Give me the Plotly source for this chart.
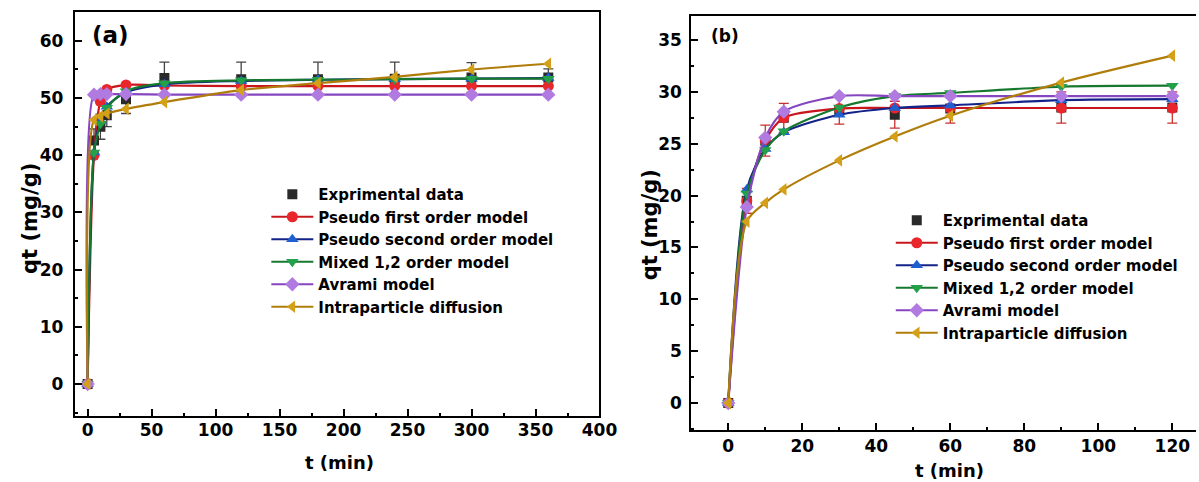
import plotly.graph_objects as go

# ---------------- data: panel (a) ----------------
ta = [0, 5, 10, 15, 30, 60, 120, 180, 240, 300, 360]
exp_a = [0, 42.6, 45.0, 47.0, 49.8, 53.5, 53.3, 53.3, 53.4, 53.6, 53.6]
err_a = [0, 2.0, 2.2, 2.0, 2.5, 2.8, 3.0, 3.0, 2.9, 2.6, 1.5]
pfo_a = [0, 40.0, 49.4, 51.5, 52.3, 52.2, 52.1, 52.1, 52.1, 52.1, 52.1]
pso_a = [0, 40.5, 46.0, 48.5, 51.0, 52.4, 53.0, 53.2, 53.3, 53.4, 53.5]
mix_a = [0, 40.5, 45.5, 48.3, 51.2, 52.6, 53.1, 53.2, 53.3, 53.4, 53.4]
avr_a = [0, 50.6, 50.7, 50.7, 50.7, 50.6, 50.6, 50.6, 50.6, 50.6, 50.6]
ipd_a = [0, 46.2, 46.8, 47.3, 48.1, 49.3, 51.4, 52.6, 53.7, 55.0, 56.0]

# ---------------- data: panel (b) ----------------
tb = [0, 5, 10, 15, 30, 45, 60, 90, 120]
exp_b = [0, 19.5, 25.3, 27.5, 28.2, 27.8, 28.4, 28.5, 28.5]
err_b = [0, 1.2, 1.5, 1.4, 1.3, 1.3, 1.4, 1.5, 1.5]
pfo_b = [0, 19.5, 25.3, 27.5, 28.4, 28.45, 28.45, 28.45, 28.45]
pso_b = [0, 20.6, 24.5, 26.1, 27.8, 28.45, 28.7, 29.2, 29.3]
mix_b = [0, 20.2, 24.4, 26.2, 28.5, 29.6, 29.9, 30.5, 30.6]
avr_b = [0, 18.9, 25.6, 28.1, 29.6, 29.6, 29.6, 29.6, 29.6]
ipd_b = [0, 17.5, 19.3, 20.6, 23.4, 25.7, 27.7, 30.9, 33.5]

names = ["Exprimental data", "Pseudo first order model", "Pseudo second order model",
         "Mixed 1,2 order model", "Avrami model", "Intraparticle diffusion"]
ticks_a_x = [0, 50, 100, 150, 200, 250, 300, 350, 400]
ticks_a_y = [0, 10, 20, 30, 40, 50, 60]
ticks_b_x = [0, 20, 40, 60, 80, 100, 120]
ticks_b_y = [0, 5, 10, 15, 20, 25, 30, 35]

FONT = "DejaVu Sans"
styles = [
    dict(line="#1a1a1a", marker="#2a2a2a", symbol="square"),
    dict(line="#c8161d", marker="#e8262b", symbol="circle"),
    dict(line="#14238a", marker="#1f5fd0", symbol="triangle-up"),
    dict(line="#16782e", marker="#22a04a", symbol="triangle-down"),
    dict(line="#8646c0", marker="#b07ae0", symbol="diamond"),
    dict(line="#b07d0a", marker="#d4a017", symbol="triangle-left"),
]

fig = go.Figure()

def add_panel(t, exp, err, models, xa, ya, legend, errcolor):
    st = styles[0]
    fig.add_trace(go.Scatter(
        x=t, y=exp, mode="markers", name=names[0], xaxis=xa, yaxis=ya,
        legend=legend, legendgroup=legend + "0",
        marker=dict(symbol=st["symbol"], size=10, color=st["marker"]),
        error_y=dict(type="data", array=err, color=errcolor, thickness=1.3, width=5)))
    for i, ys in enumerate(models, start=1):
        st = styles[i]
        fig.add_trace(go.Scatter(
            x=t, y=ys, mode="lines+markers", name=names[i], xaxis=xa, yaxis=ya,
            legend=legend, legendgroup=legend + str(i),
            line=dict(color=st["line"], width=2.2, shape="spline", smoothing=0.8),
            marker=dict(symbol=st["symbol"], size=11, color=st["marker"],
                        line=dict(width=0))))

add_panel(ta, exp_a, err_a, [pfo_a, pso_a, mix_a, avr_a, ipd_a], "x", "y", "legend", "#444444")
add_panel(tb, exp_b, err_b, [pfo_b, pso_b, mix_b, avr_b, ipd_b], "x2", "y2", "legend2", "#c83030")

W, H = 1214, 482
TW = 1199
def px_x(p): return p / TW
def px_y(p): return 1 - p / H

axis_common = dict(showline=True, linecolor="black", linewidth=2, ticks="inside",
                   ticklen=7, tickwidth=2, tickcolor="black", showgrid=False, zeroline=False,
                   tickfont=dict(family=FONT, size=17, color="black", weight="bold"))

fig.update_layout(
    width=W, height=H, autosize=False, margin=dict(l=0, r=0, t=0, b=0),
    paper_bgcolor="white", plot_bgcolor="white", showlegend=True,
    xaxis=dict(domain=[px_x(75), px_x(601)], range=[-10, 400], anchor="y",
               tickvals=ticks_a_x, mirror=True, ticklabelstandoff=-2,
               minor=dict(dtick=25, ticks="inside", ticklen=3, tickwidth=2, tickcolor="black"),
               **axis_common),
    yaxis=dict(domain=[px_y(416), px_y(12.3)], range=[-5.6, 65], anchor="x",
               tickvals=ticks_a_y, mirror=True, ticklabelstandoff=6,
               minor=dict(dtick=5, ticks="inside", ticklen=3, tickwidth=2, tickcolor="black"),
               **axis_common),
    xaxis2=dict(domain=[px_x(693), 1.0], range=[-10, 126.4], anchor="y2",
                tickvals=ticks_b_x, mirror=True, ticklabelstandoff=0,
                minor=dict(dtick=10, ticks="inside", ticklen=3, tickwidth=2, tickcolor="black"),
                **axis_common),
    yaxis2=dict(domain=[px_y(430), px_y(15.7)], range=[-2.6, 37.35], anchor="x2",
                tickvals=ticks_b_y, mirror=False, ticklabelstandoff=4,
                minor=dict(dtick=2.5, ticks="inside", ticklen=3, tickwidth=2, tickcolor="black"),
                **axis_common),
    legend=dict(x=px_x(267), y=px_y(178), xanchor="left", yanchor="top",
                bgcolor="rgba(0,0,0,0)", itemwidth=42, tracegroupgap=0,
                font=dict(family=FONT, size=15, color="black", weight="bold")),
    legend2=dict(x=px_x(893), y=px_y(204), xanchor="left", yanchor="top",
                 bgcolor="rgba(0,0,0,0)", itemwidth=42, tracegroupgap=0,
                 font=dict(family=FONT, size=15, color="black", weight="bold")),
)

ann_font = dict(family=FONT, color="black", weight="bold")
annotations = [
    dict(text="t (min)", x=px_x(340), y=px_y(462), font=dict(size=18, **ann_font)),
    dict(text="t (min)", x=px_x(952), y=px_y(470), font=dict(size=18, **ann_font)),
    dict(text="qt (mg/g)", x=px_x(30), y=px_y(218), textangle=-90, font=dict(size=21, **ann_font)),
    dict(text="qt (mg/g)", x=px_x(652), y=px_y(225), textangle=-90, font=dict(size=21, **ann_font)),
    dict(text="(a)", x=px_x(111), y=px_y(35), font=dict(size=23, **ann_font)),
    dict(text="(b)", x=px_x(727), y=px_y(36), font=dict(size=17, **ann_font)),
]
for a in annotations:
    a.update(xref="paper", yref="paper", showarrow=False, xanchor="center", yanchor="middle")
fig.update_layout(annotations=annotations)

fig.write_html("out.html")
